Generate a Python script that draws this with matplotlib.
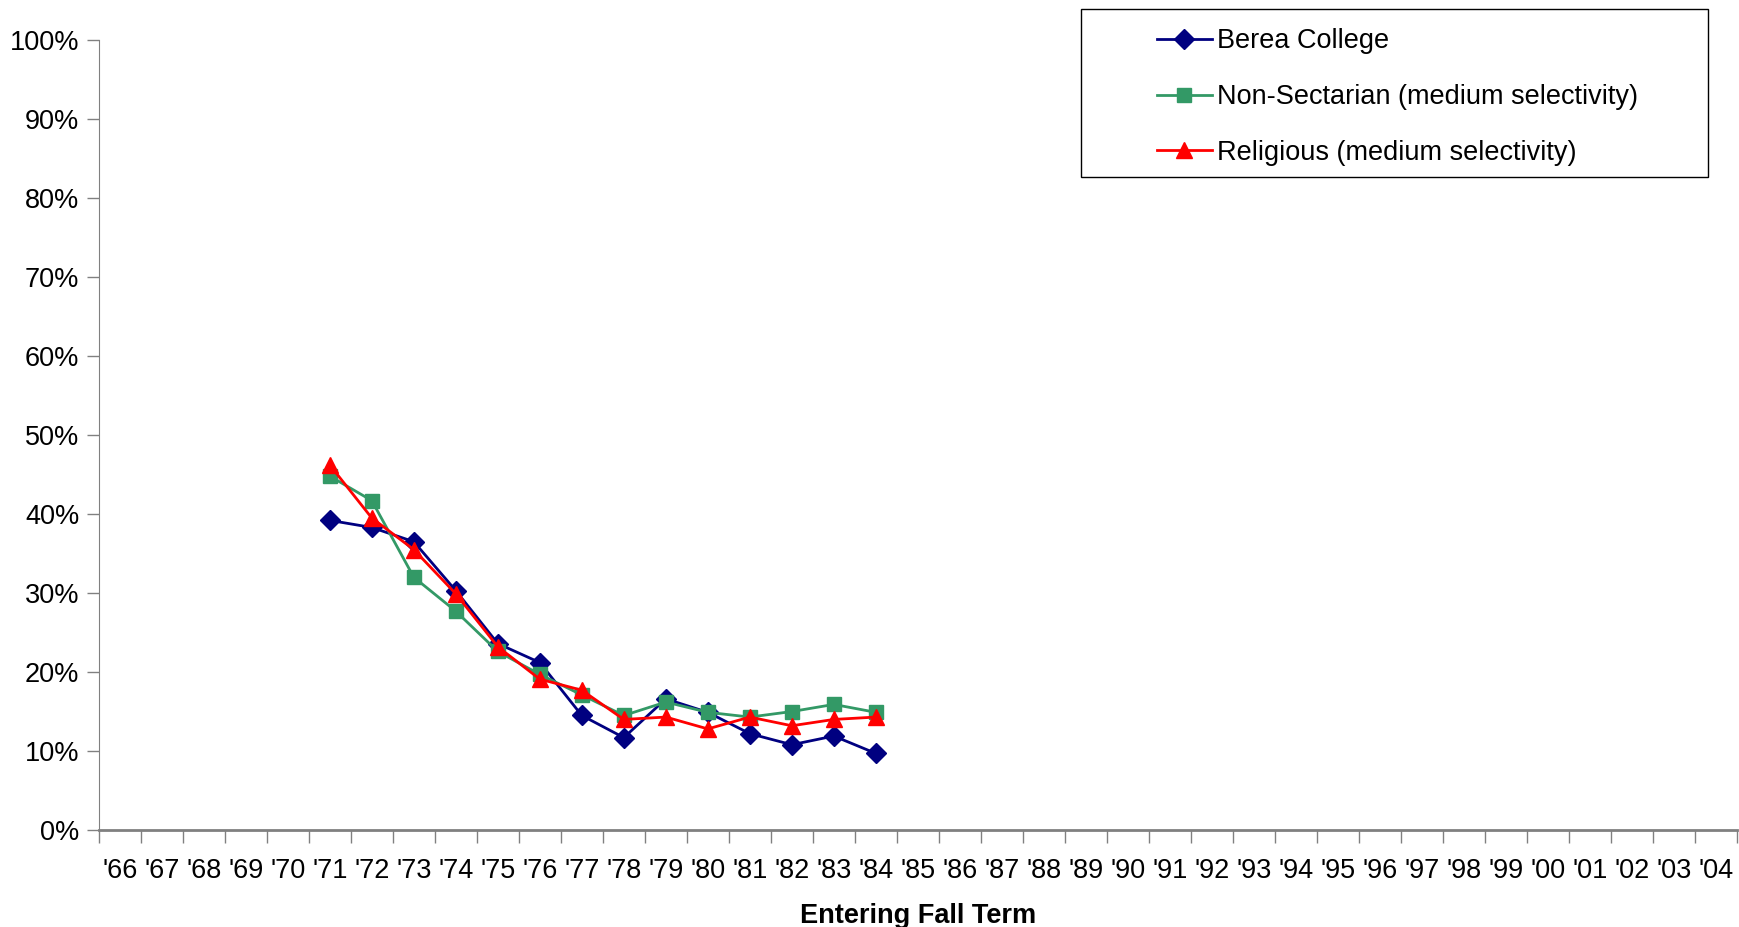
import numpy as np
import matplotlib
matplotlib.use("Agg")
import matplotlib.pyplot as plt
from matplotlib.patches import Rectangle

plt.rcParams['font.family'] = ['Liberation Sans', 'DejaVu Sans']

years = ["'66", "'67", "'68", "'69", "'70", "'71", "'72", "'73", "'74", "'75", "'76", "'77", "'78", "'79",
         "'80", "'81", "'82", "'83", "'84", "'85", "'86", "'87", "'88", "'89", "'90", "'91", "'92", "'93",
         "'94", "'95", "'96", "'97", "'98", "'99", "'00", "'01", "'02", "'03", "'04"]

# data only for '71 .. '84
data_years = ["'71", "'72", "'73", "'74", "'75", "'76", "'77", "'78", "'79", "'80", "'81", "'82", "'83", "'84"]
berea = [39.2, 38.3, 36.5, 30.3, 23.6, 21.2, 14.5, 11.7, 16.6, 14.9, 12.2, 10.8, 11.9, 9.7]
non_sectarian = [44.8, 41.7, 32.0, 27.7, 22.6, 19.7, 17.1, 14.5, 16.2, 14.9, 14.3, 15.0, 15.9, 14.9]
religious = [46.2, 39.5, 35.5, 29.9, 23.2, 19.1, 17.7, 14.0, 14.3, 12.8, 14.3, 13.2, 14.0, 14.3]

series = [
    ("Berea College", berea, '#000080', 'D', 10),
    ("Non-Sectarian (medium selectivity)", non_sectarian, '#339966', 's', 10.5),
    ("Religious (medium selectivity)", religious, '#FF0000', '^', 12),
]

FS = 19.5

fig = plt.figure(figsize=(17.39, 9.27), dpi=100)
ax = fig.add_axes([0.0568, 0.1046, 0.942, 0.8522])

x = np.array([years.index(y) for y in data_years]) + 0.5
for label, vals, color, marker, ms in series:
    ax.plot(x, vals, color=color, marker=marker, markersize=ms, linewidth=2,
            markeredgecolor=color, label=label)

ax.set_xlim(0, len(years))
ax.set_ylim(0, 100)
ax.set_yticks(range(0, 101, 10))
ax.set_yticklabels([f'{v}%' for v in range(0, 101, 10)], fontsize=FS)

ax.set_xticks(np.arange(0, len(years) + 1))
ax.set_xticklabels([])
ax.set_xticks(np.arange(len(years)) + 0.5, minor=True)
ax.set_xticklabels(years, minor=True, fontsize=FS)
ax.tick_params(axis='x', which='major', length=9, color='#808080', width=1)
ax.tick_params(axis='x', which='minor', length=0, pad=20)
ax.tick_params(axis='y', length=9, color='#808080', width=1, pad=5)

for side in ['top', 'right']:
    ax.spines[side].set_visible(False)
ax.spines['left'].set_color('#808080')
ax.spines['bottom'].set_color('#808080')
ax.spines['bottom'].set_linewidth(2)

ax.set_xlabel('Entering Fall Term', fontsize=FS, fontweight='bold', labelpad=14)

# legend frame drawn separately (wide box, entries indented)
fig.patches.append(Rectangle((1081 / 1739, 1 - 177 / 927), 627 / 1739, 168 / 927,
                             transform=fig.transFigure, facecolor='white', edgecolor='black',
                             linewidth=1, zorder=5))
leg = fig.legend(loc='center left', bbox_to_anchor=(1157 / 1739, 1 - 97 / 927), bbox_transform=fig.transFigure,
                 fontsize=FS, frameon=False, borderpad=0, labelspacing=1.09,
                 handlelength=2.03, handletextpad=0.2, borderaxespad=0)
leg.set_zorder(6)

plt.savefig('out.png', dpi=100)
